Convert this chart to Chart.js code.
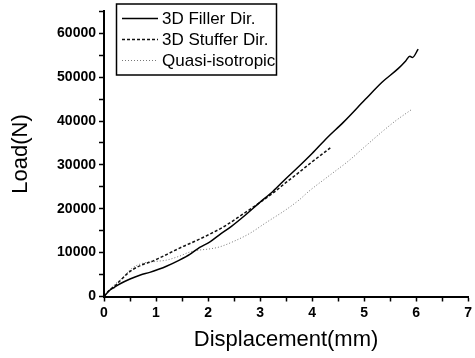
<!DOCTYPE html>
<html>
<head>
<meta charset="utf-8">
<script src="https://cdn.jsdelivr.net/npm/chart.js@4/dist/chart.umd.min.js"></script>
<style>
  html, body { margin: 0; padding: 0; background: #fff; }
  #wrap { width: 475px; height: 358px; position: relative; }
</style>
</head>
<body>
<div id="wrap"><canvas id="loadChart"></canvas></div>
<script>
// --- Data ---
const fillerDisp = [0, 0.1, 0.2, 0.31, 0.5, 0.7, 0.88, 1.05, 1.2, 1.45, 1.65, 1.84, 2.03, 2.2, 2.45, 2.73, 2.98, 3.25, 3.49, 3.75, 4.0, 4.29, 4.6, 5.02, 5.35, 5.66, 5.8, 5.88, 5.93, 6.04];
const fillerLoad = [0, 1300, 2100, 2900, 4000, 4900, 5500, 6200, 6900, 8300, 9600, 11200, 12400, 13900, 16000, 18700, 21300, 24000, 26800, 29700, 32600, 36200, 39700, 44900, 48900, 52000, 53700, 54800, 54500, 56400];

const stufferDisp = [0, 0.1, 0.2, 0.31, 0.45, 0.56, 0.75, 0.9, 1.05, 1.26, 1.5, 1.75, 2.03, 2.3, 2.66, 2.98, 3.25, 3.5, 3.75, 4.0, 4.2, 4.35];
const stufferLoad = [0, 1400, 2300, 3600, 5200, 6200, 7300, 7900, 8700, 9900, 11300, 12600, 14200, 15900, 18700, 21300, 23600, 26000, 28300, 30700, 32500, 33900];

const quasiDisp = [0, 0.1, 0.2, 0.37, 0.53, 0.75, 1.0, 1.2, 1.45, 1.64, 1.84, 2.0, 2.22, 2.5, 2.79, 3.11, 3.5, 3.75, 3.94, 4.29, 4.7, 5.0, 5.34, 5.6, 5.91];
const quasiLoad = [0, 1500, 2700, 4400, 6400, 7600, 8000, 8300, 9200, 10100, 10600, 10800, 11300, 12600, 14300, 16800, 19800, 22000, 24000, 27200, 30900, 34000, 37500, 40000, 42600];

const seriesNames = ['3D Filler Dir.', '3D Stuffer Dir.', 'Quasi-isotropic'];

const xTitle = 'Displacement(mm)';
const yTitle = 'Load(N)';

function toPoints(xs, ys) {
    return xs.map((x, i) => ({ x: x, y: ys[i] }));
}

// --- Boxed legend in the top-left of the plot ---
const boxLegend = {
    id: 'boxLegend',
    afterDatasetsDraw(chart) {
        const ctx = chart.ctx;
        const left = 116.5, top = 4, w = 160, h = 71;
        ctx.save();
        ctx.fillStyle = '#fff';
        ctx.fillRect(left, top, w, h);
        ctx.strokeStyle = '#000';
        ctx.lineWidth = 1.5;
        ctx.strokeRect(left, top, w, h);
        ctx.font = '17px Arial, "Liberation Sans", sans-serif';
        ctx.textBaseline = 'middle';
        chart.data.datasets.forEach((ds, i) => {
            const y = 18.5 + i * 21;
            ctx.beginPath();
            ctx.strokeStyle = ds.borderColor;
            ctx.lineWidth = ds.borderWidth;
            ctx.setLineDash(ds.borderDash || []);
            ctx.moveTo(122, y);
            ctx.lineTo(158, y);
            ctx.stroke();
            ctx.setLineDash([]);
            ctx.fillStyle = '#000';
            ctx.fillText(ds.label, 162, y + 1);
        });
        ctx.restore();
    }
};

const tickFont = { family: 'Arial, "Liberation Sans", sans-serif', size: 14, weight: 'bold' };
const titleFont = { family: 'Arial, "Liberation Sans", sans-serif', size: 22 };

new Chart(document.getElementById('loadChart'), {
    type: 'line',
    data: {
        datasets: [
            {
                label: seriesNames[0],
                data: toPoints(fillerDisp, fillerLoad),
                borderColor: '#000',
                borderWidth: 1.5,
                pointRadius: 0,
                cubicInterpolationMode: 'monotone'
            },
            {
                label: seriesNames[1],
                data: toPoints(stufferDisp, stufferLoad),
                borderColor: '#111',
                borderWidth: 1.5,
                borderDash: [3, 2],
                pointRadius: 0,
                cubicInterpolationMode: 'monotone'
            },
            {
                label: seriesNames[2],
                data: toPoints(quasiDisp, quasiLoad),
                borderColor: '#777',
                borderWidth: 1,
                borderDash: [1, 2],
                pointRadius: 0,
                cubicInterpolationMode: 'monotone'
            }
        ]
    },
    options: {
        responsive: true,
        maintainAspectRatio: false,
        animation: false,
        layout: { padding: { top: 3, right: 5, left: 0, bottom: 0 } },
        plugins: { legend: { display: false }, tooltip: { enabled: false } },
        scales: {
            x: {
                type: 'linear',
                min: 0, max: 7,
                afterFit(scale) { scale.height = 61.5; },
                border: { color: '#000', width: 2 },
                grid: { drawOnChartArea: false, tickLength: 5, tickColor: '#000', tickWidth: 1.5 },
                ticks: {
                    stepSize: 0.5, autoSkip: false, maxRotation: 0, color: '#000', font: tickFont, padding: 3,
                    callback: v => Number.isInteger(v) ? String(v) : ''
                },
                title: { display: true, text: xTitle, color: '#000', font: titleFont, padding: { top: 0, bottom: 5 } }
            },
            y: {
                min: 0, max: 65000,
                afterFit(scale) { scale.width = 104; },
                border: { color: '#000', width: 2 },
                grid: { drawOnChartArea: false, tickLength: 5, tickColor: '#000', tickWidth: 1.5 },
                ticks: {
                    stepSize: 5000, autoSkip: false, color: '#000', font: tickFont, padding: 3,
                    callback: v => v % 10000 === 0 ? String(v) : ''
                },
                title: { display: true, text: yTitle, color: '#000', font: titleFont, padding: { top: 8, bottom: 0 } }
            }
        }
    },
    plugins: [boxLegend]
});
</script>
</body>
</html>
